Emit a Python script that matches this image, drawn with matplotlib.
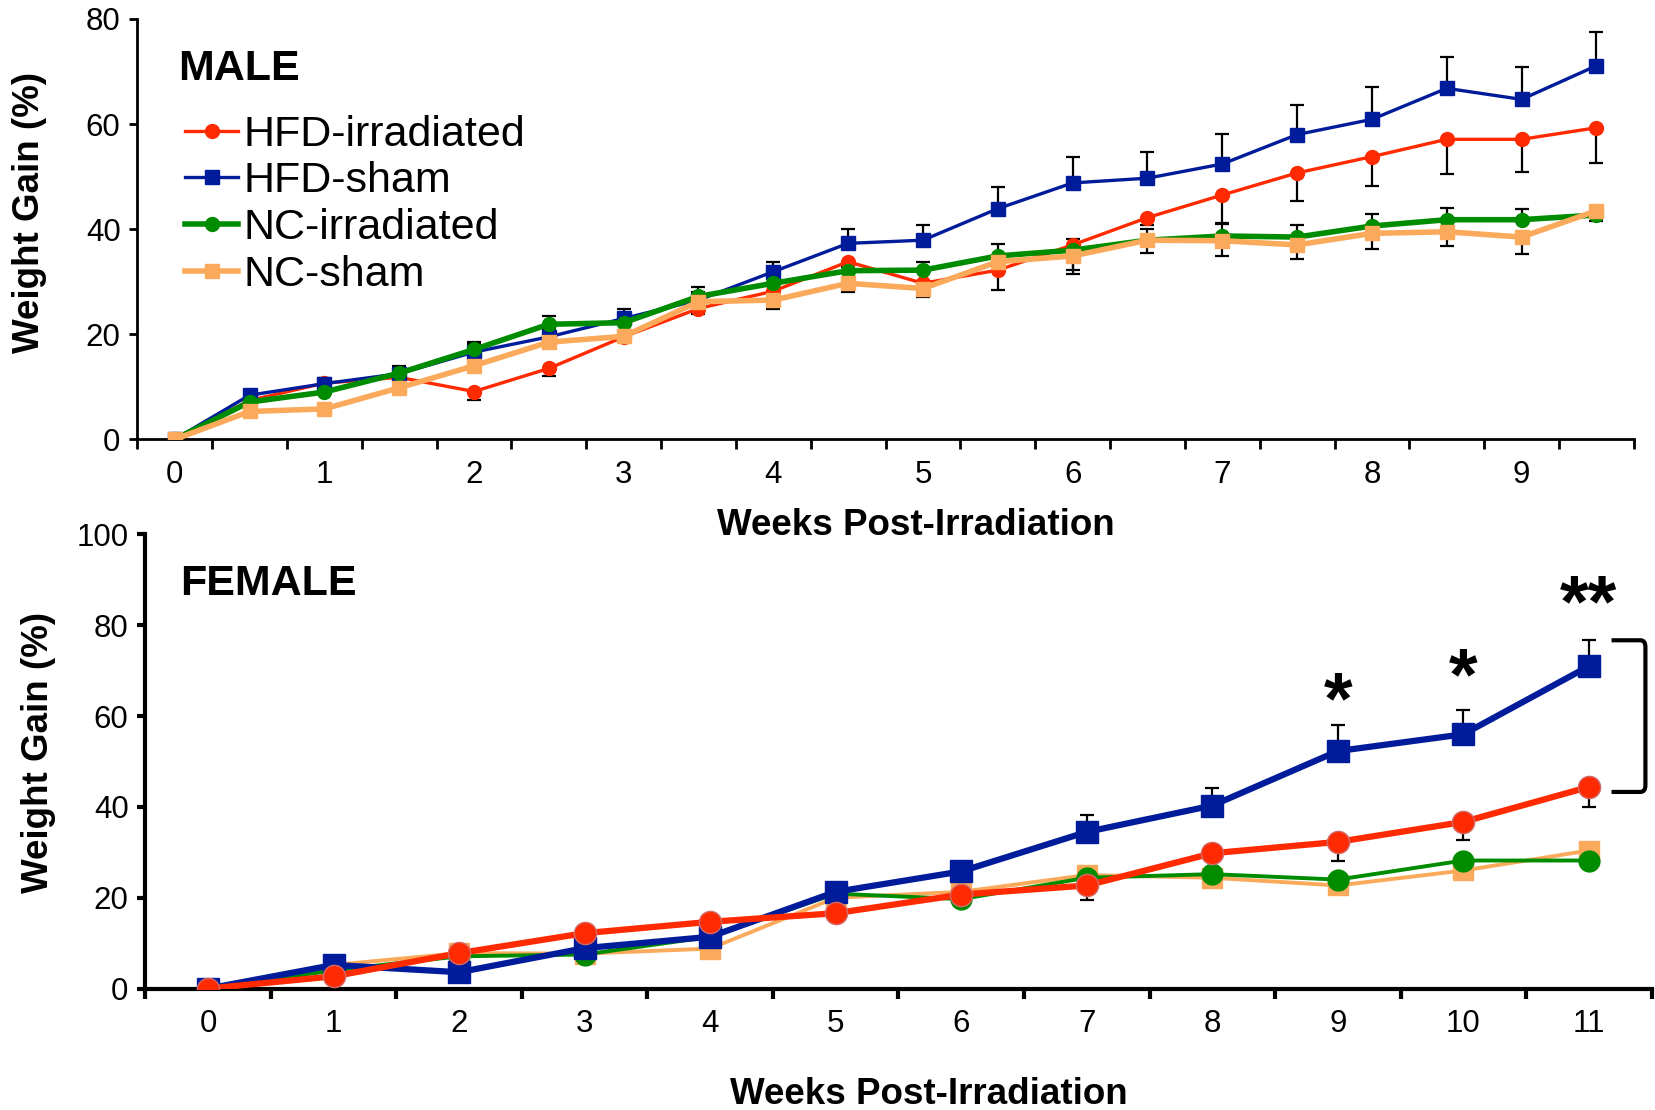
import matplotlib
matplotlib.use("Agg")
import matplotlib.pyplot as plt
from matplotlib.path import Path
from matplotlib.patches import PathPatch
from matplotlib.ticker import FixedLocator

plt.rcParams["font.family"] = ["Liberation Sans", "DejaVu Sans"]

# ---- MALE data (every half week) ----
male_weeks = [0, 0.5, 1, 1.5, 2, 2.5, 3, 3.5, 4, 4.5, 5, 5.5, 6, 6.5, 7, 7.5, 8, 8.5, 9, 9.5]
male_hfd_irr = [0, 7.4, 10.7, 11.8, 9.1, 13.5, 19.5, 24.9, 28.2, 33.8, 29.7, 32.2, 37.0, 42.2, 46.5, 50.7, 53.8, 57.1, 57.1, 59.3]
male_hfd_irr_err = [0, 0.8, 0.9, 1.0, 1.7, 1.4, 1.0, 1.1, 1.2, 1.0, 1.5, 3.8, 4.8, 1.5, 5.3, 5.4, 5.6, 6.6, 6.2, 6.8]
male_hfd_sham = [0, 8.4, 10.6, 12.5, 16.6, 19.5, 23.0, 26.5, 31.9, 37.3, 37.9, 43.9, 48.8, 49.7, 52.4, 58.0, 60.9, 66.8, 64.7, 71.1]
male_hfd_sham_err = [0, 1.0, 1.0, 1.2, 1.5, 1.5, 1.9, 1.5, 1.9, 2.8, 2.9, 4.1, 5.0, 5.0, 5.7, 5.6, 6.2, 5.9, 6.2, 6.4]
male_nc_irr = [0, 7.1, 9.0, 12.6, 17.1, 21.9, 22.2, 27.2, 29.7, 32.1, 32.2, 34.9, 36.0, 37.9, 38.7, 38.5, 40.6, 41.8, 41.8, 42.7]
male_nc_irr_err = [0, 0.8, 0.8, 1.3, 1.4, 1.5, 1.2, 1.7, 1.2, 1.5, 1.6, 2.2, 2.2, 2.2, 2.2, 2.2, 2.2, 2.3, 2.1, 1.5]
male_nc_sham = [0, 5.3, 5.8, 9.8, 14.0, 18.5, 19.6, 26.2, 26.5, 29.7, 28.7, 33.8, 34.9, 37.9, 37.8, 37.0, 39.2, 39.5, 38.5, 43.5]
male_nc_sham_err = [0, 0.8, 0.8, 0.8, 1.0, 1.0, 0.8, 1.2, 1.6, 1.7, 1.6, 1.6, 3.4, 2.4, 2.9, 2.7, 3.0, 2.7, 3.2, 1.9]
male_tick_labels = ["0", "1", "2", "3", "4", "5", "6", "7", "8", "9"]

# ---- FEMALE data (weekly) ----
fem_weeks = [0, 1, 2, 3, 4, 5, 6, 7, 8, 9, 10, 11]
fem_hfd_irr = [0, 2.7, 7.8, 12.2, 14.7, 16.6, 20.7, 22.7, 29.8, 32.3, 36.7, 44.4]
fem_hfd_irr_err = [0, 0.5, 0.8, 0.8, 0.8, 0.8, 1.0, 3.3, 1.0, 4.1, 4.0, 4.5]
fem_hfd_sham = [0, 5.2, 3.6, 8.9, 11.4, 21.3, 25.8, 34.5, 40.3, 52.3, 56.0, 71.0]
fem_hfd_sham_err = [0, 0.5, 0.5, 0.8, 0.8, 1.0, 1.5, 3.7, 3.9, 5.8, 5.3, 5.8]
fem_nc_irr = [0, 4.0, 7.1, 7.5, 11.4, 20.9, 19.7, 24.4, 25.2, 24.0, 28.2, 28.2]
fem_nc_sham = [0, 5.2, 7.8, 7.7, 8.8, 20.0, 21.3, 25.0, 24.4, 22.7, 26.0, 30.4]
fem_stars = {9: ("*", 62.6), 10: ("*", 67.9), 11: ("**", 84.0)}

RED = "#ff2a00"
BLUE = "#001c9a"
GREEN = "#008c00"
ORANGE = "#fbaa5c"

fig = plt.figure(figsize=(16.56, 11.1), dpi=100)
ax1 = fig.add_axes([0.0829, 0.6042, 0.9037, 0.3787])
ax2 = fig.add_axes([0.0877, 0.1094, 0.9097, 0.4091])
ax2.patch.set_visible(False)


def style_axis(ax, lw):
    for s in ["top", "right"]:
        ax.spines[s].set_visible(False)
    for s in ["left", "bottom"]:
        ax.spines[s].set_linewidth(lw)
    ax.tick_params(axis="y", which="major", direction="out", length=6, width=lw,
                   labelsize=22.5, pad=6)
    ax.tick_params(axis="x", which="major", length=0, labelsize=22.5, pad=15)
    ax.tick_params(axis="x", which="minor", direction="out", length=7, width=lw)


def err(ax, x, y, e, up, zo):
    zeros = [0] * len(e)
    yerr = [zeros, e] if up else [e, zeros]
    ax.errorbar(x, y, yerr=yerr, fmt="none", ecolor="black", elinewidth=1.6,
                capsize=5, capthick=1.6, zorder=zo)


# ---- MALE ----
err(ax1, male_weeks, male_hfd_irr, male_hfd_irr_err, False, 2)
err(ax1, male_weeks, male_hfd_sham, male_hfd_sham_err, True, 2)
err(ax1, male_weeks, male_nc_irr, male_nc_irr_err, True, 2)
err(ax1, male_weeks, male_nc_sham, male_nc_sham_err, False, 2)
ax1.plot(male_weeks, male_hfd_irr, color=RED, lw=2.4, marker="o", ms=10, label="HFD-irradiated", zorder=3)
ax1.plot(male_weeks, male_hfd_sham, color=BLUE, lw=2.4, marker="s", ms=10, label="HFD-sham", zorder=4)
ax1.plot(male_weeks, male_nc_irr, color=GREEN, lw=4, marker="o", ms=10, label="NC-irradiated", zorder=5)
ax1.plot(male_weeks, male_nc_sham, color=ORANGE, lw=4, marker="s", ms=10, label="NC-sham", zorder=6)

ax1.set_xlim(-0.25, 9.75)
ax1.set_ylim(0, 80)
ax1.set_yticks([0, 20, 40, 60, 80])
ax1.set_xticks(range(len(male_tick_labels)))
ax1.set_xticklabels(male_tick_labels)
ax1.xaxis.set_minor_locator(FixedLocator([w + 0.25 for w in [-0.5] + male_weeks]))
style_axis(ax1, 2)
ax1.set_ylabel("Weight Gain (%)", fontsize=26.5, fontweight="bold")
ax1.yaxis.set_label_coords(-0.060, 0.54)
ax1.set_xlabel("Weeks Post-Irradiation", fontsize=26.5, fontweight="bold")
ax1.xaxis.set_label_coords(0.52, -0.163)
ax1.text(0.02, 70.5, "MALE", fontsize=31, fontweight="bold", ha="left", va="center")
leg = ax1.legend(loc="upper left", bbox_to_anchor=(0.032, 0.772), frameon=False,
                 fontsize=31, handlelength=1.23, handletextpad=0.12,
                 labelspacing=0.155, borderpad=0, borderaxespad=0)
for h in leg.legend_handles:
    h.set_markersize(10)

# ---- FEMALE ----
err(ax2, fem_weeks, fem_hfd_irr, fem_hfd_irr_err, False, 2)
err(ax2, fem_weeks, fem_hfd_sham, fem_hfd_sham_err, True, 2)
ax2.plot(fem_weeks, fem_nc_sham, color=ORANGE, lw=2.8, marker="s", ms=15, zorder=3)
ax2.plot(fem_weeks, fem_nc_irr, color=GREEN, lw=2.8, marker="o", ms=15, zorder=4)
ax2.plot(fem_weeks, fem_hfd_sham, color=BLUE, lw=4.5, marker="s", ms=16, zorder=5)
ax2.plot(fem_weeks, fem_hfd_irr, color=RED, lw=4.5, marker="o", ms=16,
         markeredgecolor="#d26a6a", markeredgewidth=1, zorder=6)

ax2.set_xlim(-0.5, 11.5)
ax2.set_ylim(0, 100)
ax2.set_yticks([0, 20, 40, 60, 80, 100])
ax2.set_xticks(fem_weeks)
ax2.set_xticklabels([str(w) for w in fem_weeks])
ax2.xaxis.set_minor_locator(FixedLocator([w + 0.5 for w in [-1] + fem_weeks]))
style_axis(ax2, 3)
ax2.set_ylabel("Weight Gain (%)", fontsize=26.5, fontweight="bold")
ax2.yaxis.set_label_coords(-0.059, 0.52)
ax2.set_xlabel("Weeks Post-Irradiation", fontsize=26.5, fontweight="bold")
ax2.xaxis.set_label_coords(0.52, -0.195)
ax2.text(-0.22, 89, "FEMALE", fontsize=31, fontweight="bold", ha="left", va="center")

for wk, (s, yv) in fem_stars.items():
    ax2.text(wk, yv, s, fontsize=53, fontweight="bold", ha="center", va="center")

# significance bracket at week 11
bx0, bx1, btop, bbot, r = 11.18, 11.45, 76.7, 43.3, 1.5
verts = [(bx0, btop), (bx1 - 0.04, btop), (bx1, btop), (bx1, btop - r),
         (bx1, bbot + r), (bx1, bbot), (bx1 - 0.04, bbot), (bx0, bbot)]
codes = [Path.MOVETO, Path.LINETO, Path.CURVE3, Path.CURVE3,
         Path.LINETO, Path.CURVE3, Path.CURVE3, Path.LINETO]
ax2.add_patch(PathPatch(Path(verts, codes), fill=False, lw=3, color="black",
                        clip_on=False, zorder=7))

fig.savefig("out.png", dpi=100)
